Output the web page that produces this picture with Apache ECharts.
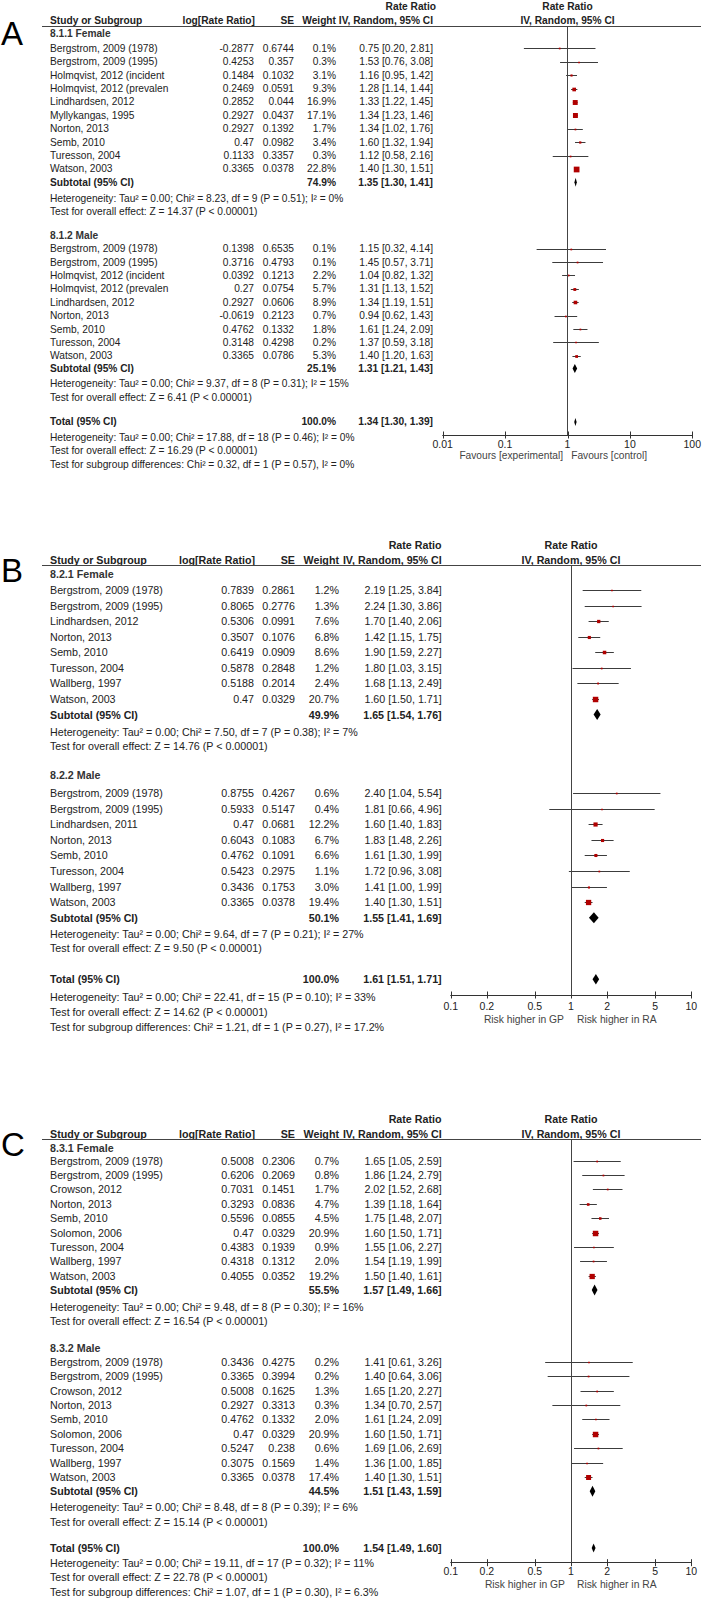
<!DOCTYPE html>
<html><head><meta charset="utf-8">
<script src="https://cdn.jsdelivr.net/npm/echarts@6/dist/echarts.min.js"></script>
<style>html,body{margin:0;padding:0;background:#fff}#c{width:704px;height:1600px}</style>
</head><body><div id="c"></div>
<script>
// ===================== DATA =====================
// Panel A (8.1)
const aFemNames = ["Bergstrom, 2009 (1978)","Bergstrom, 2009 (1995)","Holmqvist, 2012 (incident","Holmqvist, 2012 (prevalen","Lindhardsen, 2012","Myllykangas, 1995","Norton, 2013","Semb, 2010","Turesson, 2004","Watson, 2003"];
const aFemLog = [-0.2877,0.4253,0.1484,0.2469,0.2852,0.2927,0.2927,0.47,0.1133,0.3365];
const aFemSE = [0.6744,0.357,0.1032,0.0591,0.044,0.0437,0.1392,0.0982,0.3357,0.0378];
const aFemW = [0.1,0.3,3.1,9.3,16.9,17.1,1.7,3.4,0.3,22.8];
const aFemRR = [0.75,1.53,1.16,1.28,1.33,1.34,1.34,1.60,1.12,1.40];
const aFemLo = [0.20,0.76,0.95,1.14,1.22,1.23,1.02,1.32,0.58,1.30];
const aFemHi = [2.81,3.08,1.42,1.44,1.45,1.46,1.76,1.94,2.16,1.51];
const aFemSub = [74.9,1.35,1.30,1.41];
const aFemNotes = ["Heterogeneity: Tau\u00b2 = 0.00; Chi\u00b2 = 8.23, df = 9 (P = 0.51); I\u00b2 = 0%","Test for overall effect: Z = 14.37 (P < 0.00001)"];
const aMaleNames = ["Bergstrom, 2009 (1978)","Bergstrom, 2009 (1995)","Holmqvist, 2012 (incident","Holmqvist, 2012 (prevalen","Lindhardsen, 2012","Norton, 2013","Semb, 2010","Turesson, 2004","Watson, 2003"];
const aMaleLog = [0.1398,0.3716,0.0392,0.27,0.2927,-0.0619,0.4762,0.3148,0.3365];
const aMaleSE = [0.6535,0.4793,0.1213,0.0754,0.0606,0.2123,0.1332,0.4298,0.0786];
const aMaleW = [0.1,0.1,2.2,5.7,8.9,0.7,1.8,0.2,5.3];
const aMaleRR = [1.15,1.45,1.04,1.31,1.34,0.94,1.61,1.37,1.40];
const aMaleLo = [0.32,0.57,0.82,1.13,1.19,0.62,1.24,0.59,1.20];
const aMaleHi = [4.14,3.71,1.32,1.52,1.51,1.43,2.09,3.18,1.63];
const aMaleSub = [25.1,1.31,1.21,1.43];
const aMaleNotes = ["Heterogeneity: Tau\u00b2 = 0.00; Chi\u00b2 = 9.37, df = 8 (P = 0.31); I\u00b2 = 15%","Test for overall effect: Z = 6.41 (P < 0.00001)"];
const aTotal = [100.0,1.34,1.30,1.39];
const aTotNotes = ["Heterogeneity: Tau\u00b2 = 0.00; Chi\u00b2 = 17.88, df = 18 (P = 0.46); I\u00b2 = 0%","Test for overall effect: Z = 16.29 (P < 0.00001)","Test for subgroup differences: Chi\u00b2 = 0.32, df = 1 (P = 0.57), I\u00b2 = 0%"];
const aTicks = [0.01,0.1,1,10,100];
const aFav = ["Favours [experimental]","Favours [control]"];

// Panel B (8.2)
const bFemNames = ["Bergstrom, 2009 (1978)","Bergstrom, 2009 (1995)","Lindhardsen, 2012","Norton, 2013","Semb, 2010","Turesson, 2004","Wallberg, 1997","Watson, 2003"];
const bFemLog = [0.7839,0.8065,0.5306,0.3507,0.6419,0.5878,0.5188,0.47];
const bFemSE = [0.2861,0.2776,0.0991,0.1076,0.0909,0.2848,0.2014,0.0329];
const bFemW = [1.2,1.3,7.6,6.8,8.6,1.2,2.4,20.7];
const bFemRR = [2.19,2.24,1.70,1.42,1.90,1.80,1.68,1.60];
const bFemLo = [1.25,1.30,1.40,1.15,1.59,1.03,1.13,1.50];
const bFemHi = [3.84,3.86,2.06,1.75,2.27,3.15,2.49,1.71];
const bFemSub = [49.9,1.65,1.54,1.76];
const bFemNotes = ["Heterogeneity: Tau\u00b2 = 0.00; Chi\u00b2 = 7.50, df = 7 (P = 0.38); I\u00b2 = 7%","Test for overall effect: Z = 14.76 (P < 0.00001)"];
const bMaleNames = ["Bergstrom, 2009 (1978)","Bergstrom, 2009 (1995)","Lindhardsen, 2011","Norton, 2013","Semb, 2010","Turesson, 2004","Wallberg, 1997","Watson, 2003"];
const bMaleLog = [0.8755,0.5933,0.47,0.6043,0.4762,0.5423,0.3436,0.3365];
const bMaleSE = [0.4267,0.5147,0.0681,0.1083,0.1091,0.2975,0.1753,0.0378];
const bMaleW = [0.6,0.4,12.2,6.7,6.6,1.1,3.0,19.4];
const bMaleRR = [2.40,1.81,1.60,1.83,1.61,1.72,1.41,1.40];
const bMaleLo = [1.04,0.66,1.40,1.48,1.30,0.96,1.00,1.30];
const bMaleHi = [5.54,4.96,1.83,2.26,1.99,3.08,1.99,1.51];
const bMaleSub = [50.1,1.55,1.41,1.69];
const bMaleNotes = ["Heterogeneity: Tau\u00b2 = 0.00; Chi\u00b2 = 9.64, df = 7 (P = 0.21); I\u00b2 = 27%","Test for overall effect: Z = 9.50 (P < 0.00001)"];
const bTotal = [100.0,1.61,1.51,1.71];
const bTotNotes = ["Heterogeneity: Tau\u00b2 = 0.00; Chi\u00b2 = 22.41, df = 15 (P = 0.10); I\u00b2 = 33%","Test for overall effect: Z = 14.62 (P < 0.00001)","Test for subgroup differences: Chi\u00b2 = 1.21, df = 1 (P = 0.27), I\u00b2 = 17.2%"];
const bTicks = [0.1,0.2,0.5,1,2,5,10];
const bFav = ["Risk higher in GP","Risk higher in RA"];

// Panel C (8.3)
const cFemNames = ["Bergstrom, 2009 (1978)","Bergstrom, 2009 (1995)","Crowson, 2012","Norton, 2013","Semb, 2010","Solomon, 2006","Turesson, 2004","Wallberg, 1997","Watson, 2003"];
const cFemLog = [0.5008,0.6206,0.7031,0.3293,0.5596,0.47,0.4383,0.4318,0.4055];
const cFemSE = [0.2306,0.2069,0.1451,0.0836,0.0855,0.0329,0.1939,0.1312,0.0352];
const cFemW = [0.7,0.8,1.7,4.7,4.5,20.9,0.9,2.0,19.2];
const cFemRR = [1.65,1.86,2.02,1.39,1.75,1.60,1.55,1.54,1.50];
const cFemLo = [1.05,1.24,1.52,1.18,1.48,1.50,1.06,1.19,1.40];
const cFemHi = [2.59,2.79,2.68,1.64,2.07,1.71,2.27,1.99,1.61];
const cFemSub = [55.5,1.57,1.49,1.66];
const cFemNotes = ["Heterogeneity: Tau\u00b2 = 0.00; Chi\u00b2 = 9.48, df = 8 (P = 0.30); I\u00b2 = 16%","Test for overall effect: Z = 16.54 (P < 0.00001)"];
const cMaleNames = ["Bergstrom, 2009 (1978)","Bergstrom, 2009 (1995)","Crowson, 2012","Norton, 2013","Semb, 2010","Solomon, 2006","Turesson, 2004","Wallberg, 1997","Watson, 2003"];
const cMaleLog = [0.3436,0.3365,0.5008,0.2927,0.4762,0.47,0.5247,0.3075,0.3365];
const cMaleSE = [0.4275,0.3994,0.1625,0.3313,0.1332,0.0329,0.238,0.1569,0.0378];
const cMaleW = [0.2,0.2,1.3,0.3,2.0,20.9,0.6,1.4,17.4];
const cMaleRR = [1.41,1.40,1.65,1.34,1.61,1.60,1.69,1.36,1.40];
const cMaleLo = [0.61,0.64,1.20,0.70,1.24,1.50,1.06,1.00,1.30];
const cMaleHi = [3.26,3.06,2.27,2.57,2.09,1.71,2.69,1.85,1.51];
const cMaleSub = [44.5,1.51,1.43,1.59];
const cMaleNotes = ["Heterogeneity: Tau\u00b2 = 0.00; Chi\u00b2 = 8.48, df = 8 (P = 0.39); I\u00b2 = 6%","Test for overall effect: Z = 15.14 (P < 0.00001)"];
const cTotal = [100.0,1.54,1.49,1.60];
const cTotNotes = ["Heterogeneity: Tau\u00b2 = 0.00; Chi\u00b2 = 19.11, df = 17 (P = 0.32); I\u00b2 = 11%","Test for overall effect: Z = 22.78 (P < 0.00001)","Test for subgroup differences: Chi\u00b2 = 1.07, df = 1 (P = 0.30), I\u00b2 = 6.3%"];
const cTicks = [0.1,0.2,0.5,1,2,5,10];
const cFav = ["Risk higher in GP","Risk higher in RA"];

// ===================== LAYOUT =====================
const FONT = '"Liberation Sans", Arial, sans-serif';
const TXT = '#222';
const layoutA = {top:26, bottom:435, y0:48.3, s:13.4, fs:10.2, cols:[50,254,294,336,433], rrHeadRight:436,
  left:442.7, right:692.3, xmin:0.01, xmax:100, letterX:1, letterY:33,
  slots:{head:[-1.1,13.95], start:[0,14.95], sub:[10,23.9], notes:[[11.2,12.2],[25.05,26.05]], total:27.88, totNotes:[29.03,30.03,31.03]},
  diaH:9, totDiaH:8, tickLabOff:8.5, favOff:20, favGap:[4.5,3.7], favFs:10.2};
const layoutB = {top:565, bottom:995, y0:590, s:15.57, fs:10.7, cols:[50,254,295,339,441.7], rrHeadRight:441.5,
  left:450.7, right:691.3, xmin:0.1, xmax:10, letterX:1, letterY:570,
  slots:{head:[-1.0,11.88], start:[0,13.05], sub:[8,21.05], notes:[[9.15,10.05],[22.09,23.01]], total:25.0, totNotes:[26.16,27.12,28.09]},
  diaH:11, totDiaH:10.5, tickLabOff:11, favOff:24.3, favGap:[7,6], favFs:10.3};
const layoutC = {top:1139, bottom:1562.7, y0:1160.7, s:14.375, fs:10.7, cols:[50,254,295,339,441.7], rrHeadRight:441.5,
  left:450.7, right:691.3, xmin:0.1, xmax:10, letterX:1, letterY:1144,
  slots:{head:[-0.9,13.0], start:[0,14], sub:[9,23], notes:[[10.2,11.13],[24.11,25.1]], total:26.94, totNotes:[27.97,28.98,29.98]},
  diaH:11, totDiaH:9, tickLabOff:8.5, favOff:21.3, favGap:[6,6], favFs:10.3};

const panels = [
  {letter:'A', heads:['8.1.1 Female','8.1.2 Male'], L:layoutA, ticks:aTicks, fav:aFav, total:aTotal, totNotes:aTotNotes,
   groups:[{names:aFemNames,log:aFemLog,se:aFemSE,w:aFemW,rr:aFemRR,lo:aFemLo,hi:aFemHi,sub:aFemSub,notes:aFemNotes},
           {names:aMaleNames,log:aMaleLog,se:aMaleSE,w:aMaleW,rr:aMaleRR,lo:aMaleLo,hi:aMaleHi,sub:aMaleSub,notes:aMaleNotes}]},
  {letter:'B', heads:['8.2.1 Female','8.2.2 Male'], L:layoutB, ticks:bTicks, fav:bFav, total:bTotal, totNotes:bTotNotes,
   groups:[{names:bFemNames,log:bFemLog,se:bFemSE,w:bFemW,rr:bFemRR,lo:bFemLo,hi:bFemHi,sub:bFemSub,notes:bFemNotes},
           {names:bMaleNames,log:bMaleLog,se:bMaleSE,w:bMaleW,rr:bMaleRR,lo:bMaleLo,hi:bMaleHi,sub:bMaleSub,notes:bMaleNotes}]},
  {letter:'C', heads:['8.3.1 Female','8.3.2 Male'], L:layoutC, ticks:cTicks, fav:cFav, total:cTotal, totNotes:cTotNotes,
   groups:[{names:cFemNames,log:cFemLog,se:cFemSE,w:cFemW,rr:cFemRR,lo:cFemLo,hi:cFemHi,sub:cFemSub,notes:cFemNotes},
           {names:cMaleNames,log:cMaleLog,se:cMaleSE,w:cMaleW,rr:cMaleRR,lo:cMaleLo,hi:cMaleHi,sub:cMaleSub,notes:cMaleNotes}]}
];

// ===================== RENDER =====================
function renderStudy(params, api){
  const y = api.value(3);
  const a = api.coord([api.value(0), y]);
  const b = api.coord([api.value(1), y]);
  const c = api.coord([api.value(2), y]);
  const sz = Math.max(1.7, 1.2*Math.sqrt(api.value(4)));
  const yy = Math.round(c[1]) + 0.5;
  return {type:'group', children:[
    {type:'line', shape:{x1:a[0], y1:yy, x2:b[0], y2:yy}, style:{stroke:'#3c3c3c', lineWidth:1}},
    {type:'rect', shape:{x:c[0]-sz/2, y:yy-sz/2, width:sz, height:sz}, style:{fill:'#b00000'}}
  ]};
}
function renderDiamond(params, api){
  const y = api.value(3), h = api.value(4);
  const a = api.coord([api.value(0), y]);
  const b = api.coord([api.value(1), y]);
  const c = api.coord([api.value(2), y]);
  const half = Math.max(1.2, (b[0]-a[0])/2);
  const l = Math.min(a[0], c[0]-half), r = Math.max(b[0], c[0]+half);
  return {type:'polygon', shape:{points:[[l, c[1]],[c[0], c[1]-h/2],[r, c[1]],[c[0], c[1]+h/2]]}, style:{fill:'#000'}};
}
function makeTick(ymax, L){
  return function(params, api){
    const v = api.value(0);
    const pt = api.coord([v, ymax]);
    const x = Math.round(pt[0]) + 0.5;
    return {type:'group', children:[
      {type:'line', shape:{x1:x, y1:pt[1]-3.5, x2:x, y2:pt[1]+3.5}, style:{stroke:'#333', lineWidth:1}},
      {type:'text', style:{text:String(v), x:pt[0], y:pt[1]+L.tickLabOff, align:'center', verticalAlign:'middle',
        fontSize:10.5, fontFamily:FONT, fill:TXT}}
    ]};
  };
}

const chart = echarts.init(document.getElementById('c'), null, {renderer:'svg', width:704, height:1600});
const grids=[], xAxes=[], yAxes=[], series=[];
panels.forEach((p, i) => {
  const L = p.L;
  grids.push({left:L.left, top:L.top, width:L.right-L.left, height:L.bottom-L.top, containLabel:false});
  xAxes.push({gridIndex:i, type:'log', logBase:10, min:L.xmin, max:L.xmax, position:'bottom',
    axisLine:{show:true, onZero:false, lineStyle:{color:'#333', width:1}},
    axisTick:{show:false}, axisLabel:{show:false}, splitLine:{show:false}});
  const ymin = (L.top-L.y0)/L.s, ymax = (L.bottom-L.y0)/L.s;
  yAxes.push({gridIndex:i, type:'value', inverse:true, min:ymin, max:ymax, show:false, splitLine:{show:false}});
  const studyData=[], diaData=[];
  p.groups.forEach((g, gi) => {
    g.rr.forEach((r, k) => studyData.push([g.lo[k], g.hi[k], r, L.slots.start[gi]+k, g.w[k]]));
    diaData.push([g.sub[2], g.sub[3], g.sub[1], L.slots.sub[gi], L.diaH]);
  });
  diaData.push([p.total[2], p.total[3], p.total[1], L.slots.total, L.totDiaH]);
  series.push({type:'custom', xAxisIndex:i, yAxisIndex:i, data:studyData, renderItem:renderStudy, clip:false, silent:true, z:3,
    markLine:{silent:true, symbol:['none','none'], label:{show:false}, animation:false,
      lineStyle:{color:'#444', width:1, type:'solid'}, data:[{xAxis:1}]}});
  series.push({type:'custom', xAxisIndex:i, yAxisIndex:i, data:diaData, renderItem:renderDiamond, clip:false, silent:true, z:4});
  series.push({type:'custom', xAxisIndex:i, yAxisIndex:i, data:p.ticks.map(v=>[v]), renderItem:makeTick(ymax, L), clip:false, silent:true, z:4});
});
chart.setOption({animation:false, backgroundColor:'#fff', grid:grids, xAxis:xAxes, yAxis:yAxes, series:series});

function txt(x, y, text, fs, align, bold, color){
  return {type:'text', silent:true, style:{text:text, x:x, y:y, fontSize:fs, fontFamily:FONT,
    fontWeight: bold ? 'bold' : 'normal', fill: color || TXT, align:align, verticalAlign:'middle',
    textAlign:align, textVerticalAlign:'middle'}};
}
const gfx = [];
panels.forEach((p, i) => {
  const L = p.L, fs = L.fs, c = L.cols;
  const Y = s => chart.convertToPixel({gridIndex:i}, [1, s])[1];
  const X1 = chart.convertToPixel({gridIndex:i}, [1, 0])[0];
  const ci = (r, lo, hi) => r.toFixed(2) + ' [' + lo.toFixed(2) + ', ' + hi.toFixed(2) + ']';
  // letter
  gfx.push(txt(L.letterX, L.letterY, p.letter, 33, 'left', false, '#000'));
  // headers
  const hy1 = L.top - 20, hy2 = L.top - 5.5;
  gfx.push(txt(L.rrHeadRight, hy1, 'Rate Ratio', fs, 'right', true));
  gfx.push(txt(c[0], hy2, 'Study or Subgroup', fs, 'left', true));
  gfx.push(txt(c[1]+1, hy2, 'log[Rate Ratio]', fs, 'right', true));
  gfx.push(txt(c[2], hy2, 'SE', fs, 'right', true));
  gfx.push(txt(c[3], hy2, 'Weight', fs, 'right', true));
  gfx.push(txt(c[4], hy2, 'IV, Random, 95% CI', fs, 'right', true));
  gfx.push(txt(X1, hy1, 'Rate Ratio', fs, 'center', true));
  gfx.push(txt(X1, hy2, 'IV, Random, 95% CI', fs, 'center', true));
  gfx.push({type:'line', silent:true, shape:{x1:42, y1:L.top+0.5, x2:701, y2:L.top+0.5}, style:{stroke:'#444', lineWidth:1}});
  // groups
  p.groups.forEach((g, gi) => {
    gfx.push(txt(c[0], Y(L.slots.head[gi]), p.heads[gi], fs, 'left', true, '#333'));
    g.names.forEach((n, k) => {
      const y = Y(L.slots.start[gi] + k);
      gfx.push(txt(c[0], y, n, fs, 'left', false));
      gfx.push(txt(c[1], y, String(g.log[k]), fs, 'right', false));
      gfx.push(txt(c[2], y, String(g.se[k]), fs, 'right', false));
      gfx.push(txt(c[3], y, g.w[k].toFixed(1) + '%', fs, 'right', false));
      gfx.push(txt(c[4], y, ci(g.rr[k], g.lo[k], g.hi[k]), fs, 'right', false));
    });
    const ys = Y(L.slots.sub[gi]);
    gfx.push(txt(c[0], ys, 'Subtotal (95% CI)', fs, 'left', true));
    gfx.push(txt(c[3], ys, g.sub[0].toFixed(1) + '%', fs, 'right', true));
    gfx.push(txt(c[4], ys, ci(g.sub[1], g.sub[2], g.sub[3]), fs, 'right', true));
    g.notes.forEach((n, k) => gfx.push(txt(c[0], Y(L.slots.notes[gi][k]), n, fs, 'left', false)));
  });
  const yt = Y(L.slots.total);
  gfx.push(txt(c[0], yt, 'Total (95% CI)', fs, 'left', true));
  gfx.push(txt(c[3], yt, p.total[0].toFixed(1) + '%', fs, 'right', true));
  gfx.push(txt(c[4], yt, ci(p.total[1], p.total[2], p.total[3]), fs, 'right', true));
  p.totNotes.forEach((n, k) => gfx.push(txt(c[0], Y(L.slots.totNotes[k]), n, fs, 'left', false)));
  // favours labels
  const fy = L.bottom + L.favOff;
  gfx.push(txt(X1 - L.favGap[0], fy, p.fav[0], L.favFs, 'right', false, '#444'));
  gfx.push(txt(X1 + L.favGap[1], fy, p.fav[1], L.favFs, 'left', false, '#444'));
});
chart.setOption({graphic:{elements:gfx}});
</script></body></html>
